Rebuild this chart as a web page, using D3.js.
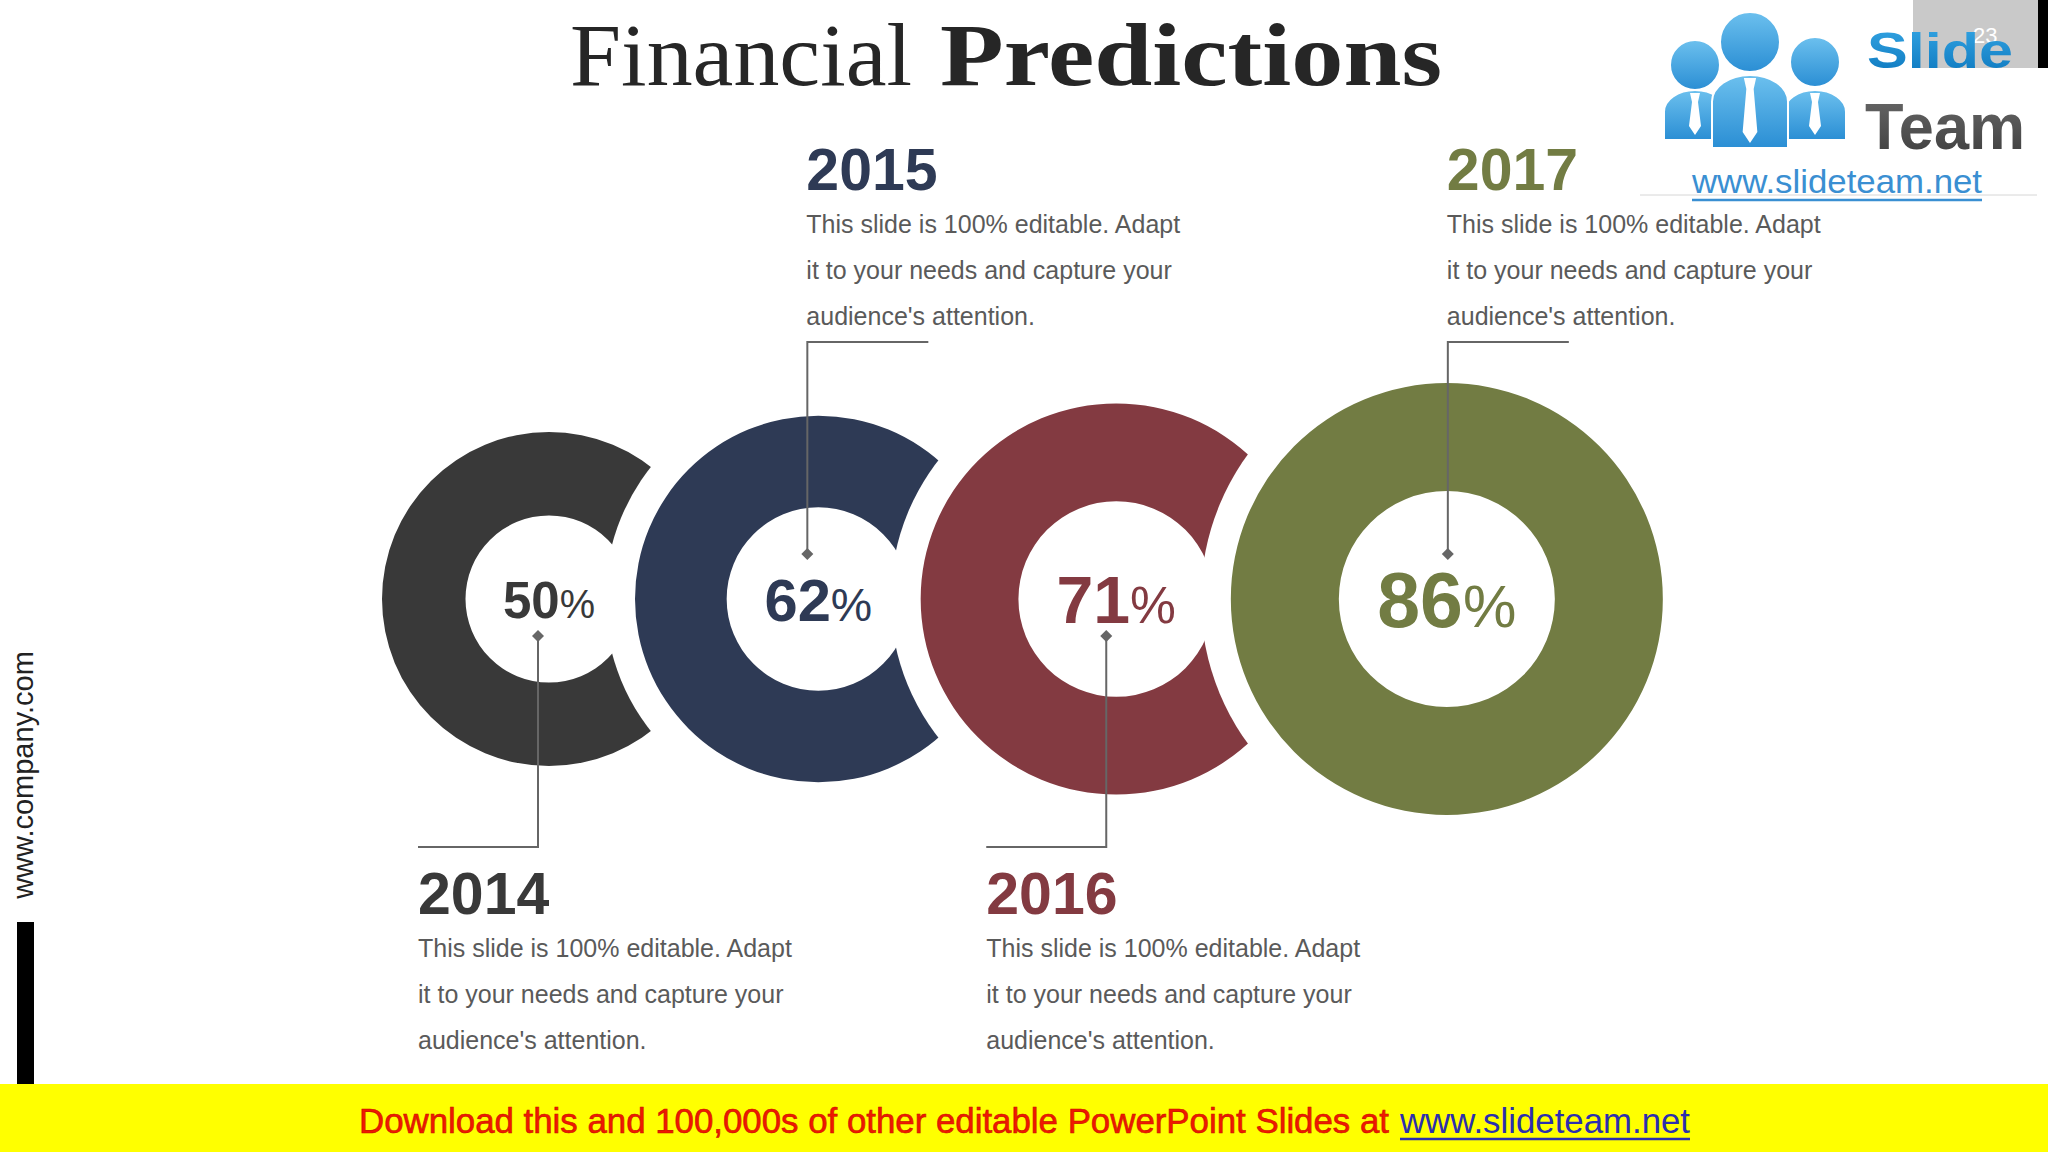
<!DOCTYPE html>
<html>
<head>
<meta charset="utf-8">
<script src="https://cdn.jsdelivr.net/npm/d3@7"></script>
<style>
  html, body { margin: 0; padding: 0; background: #fff; }
  svg { display: block; }
</style>
</head>
<body>
<svg id="chart" width="2048" height="1152"></svg>
<script>
// chart data
const years = ["2014", "2015", "2016", "2017"];
const values = [50, 62, 71, 86];
const colors = ["#393939", "#2e3a55", "#833a41", "#727c43"];
const sides = ["bottom", "top", "bottom", "top"]; // where the caption sits
const bodyLines = ["This slide is 100% editable. Adapt",
                   "it to your needs and capture your",
                   "audience's attention."];
const titleParts = ["Financial", "Predictions"];
const footerText = "Download this and 100,000s of other editable PowerPoint Slides at";
const footerLink = "www.slideteam.net";

const W = 2048, H = 1152;
const cy = 599;       // vertical centre of the row of rings
const overlap = 81;   // how much neighbouring rings overlap
const gap = 30;       // white gap cut round the next ring
const leadDx = [-11, -11, -10, 1]; // leader line offset from ring centre
const topRowY = 342, botRowY = 847;

const svg = d3.select("#chart");
const defs = svg.append("defs");

svg.append("rect").attr("width", W).attr("height", H).attr("fill", "#fff");

// ring size and label size grow with the value
const rScale = d3.scaleLinear().domain([50, 86]).range([167, 216]);
const numSize = d3.scaleLinear().domain([50, 86]).range([51, 77]);

var rings = years.map((y, i) => ({year: y, value: values[i], color: colors[i],
                                  side: sides[i], R: rScale(values[i])}));
rings.forEach((d, i) => {
    d.r = d.R / 2;
    d.cx = i === 0 ? 549 : rings[i - 1].cx + rings[i - 1].R + d.R - overlap;
});

// each ring is cut by a circle round the next one
rings.forEach((d, i) => {
    if (i === rings.length - 1) return;
    var nxt = rings[i + 1];
    var m = defs.append("mask").attr("id", "cut-" + i)
        .attr("maskUnits", "userSpaceOnUse")
        .attr("x", 0).attr("y", 0).attr("width", W).attr("height", H);
    m.append("rect").attr("width", W).attr("height", H).attr("fill", "#fff");
    m.append("circle").attr("cx", nxt.cx).attr("cy", cy)
        .attr("r", nxt.R + gap).attr("fill", "#000");
});

const arc = d3.arc().startAngle(0).endAngle(2 * Math.PI)
    .innerRadius(d => d.r).outerRadius(d => d.R);

// mask goes on an untransformed group so its coordinates are page coordinates
svg.append("g").selectAll("g")
    .data(rings).join("g")
    .attr("mask", (d, i) => i < rings.length - 1 ? `url(#cut-${i})` : null)
  .append("path")
    .attr("transform", d => `translate(${d.cx},${cy})`)
    .attr("d", arc)
    .attr("fill", d => d.color);

// percentage in the middle
var nums = svg.append("g").selectAll("text")
    .data(rings).join("text")
    .attr("x", d => d.cx).attr("y", cy)
    .attr("dy", d => 0.37 * numSize(d.value))
    .attr("text-anchor", "middle")
    .attr("fill", d => d.color)
    .style("font-family", "'Liberation Sans', Arial, sans-serif");
nums.append("tspan").text(d => d.value)
    .style("font-weight", "bold").style("font-size", d => numSize(d.value) + "px");
nums.append("tspan").text("%")
    .style("font-size", d => 0.78 * numSize(d.value) + "px");

// leader lines with diamond ends
var lead = svg.append("g").attr("stroke", "#666").attr("stroke-width", 2).attr("fill", "none");
rings.forEach((d, i) => {
    var lx = d.cx + leadDx[i];
    var top = d.side === "top";
    var dy = top ? cy - 45 : cy + 37;
    var rowY = top ? topRowY : botRowY;
    var endX = top ? lx + 121 : lx - 120;
    lead.append("path").attr("d", d3.line()([[lx, dy], [lx, rowY], [endX, rowY]]));
    svg.append("path")
        .attr("d", d3.symbol(d3.symbolSquare, 72)())
        .attr("transform", `translate(${lx},${dy}) rotate(45)`)
        .attr("fill", "#666");
    d.textX = top ? lx - 1 : endX;
    d.yearY = top ? 190 : 914;
});

// captions
var cap = svg.append("g").selectAll("g").data(rings).join("g")
    .attr("transform", d => `translate(${d.textX},${d.yearY})`)
    .style("font-family", "'Liberation Sans', Arial, sans-serif");
cap.append("text").text(d => d.year)
    .attr("fill", d => d.color)
    .style("font-weight", "bold").style("font-size", "59px");
cap.selectAll("text.body").data(bodyLines).join("text")
    .attr("class", "body")
    .attr("y", (t, j) => 43 + j * 46)
    .attr("fill", "#5a5a5a")
    .style("font-size", "25px")
    .text(t => t);

// title
var title = svg.append("g").style("font-family", "'Liberation Serif', 'Times New Roman', serif")
    .style("font-size", "88px").attr("fill", "#262626");
title.append("text").attr("x", 570).attr("y", 85).text(titleParts[0])
    .attr("textLength", 342).attr("lengthAdjust", "spacingAndGlyphs");
title.append("text").attr("x", 940).attr("y", 85).text(titleParts[1])
    .style("font-weight", "bold")
    .attr("textLength", 502).attr("lengthAdjust", "spacingAndGlyphs");

// left margin: site text and black bar
svg.append("text")
    .attr("transform", "translate(33,775) rotate(-90)")
    .attr("text-anchor", "middle")
    .attr("fill", "#222")
    .style("font-family", "'Liberation Sans', Arial, sans-serif")
    .style("font-size", "29px")
    .text("www.company.com");
svg.append("rect").attr("x", 17).attr("y", 922).attr("width", 17).attr("height", 162).attr("fill", "#000");

// top right: slide number box and logo
svg.append("rect").attr("x", 1913).attr("y", 0).attr("width", 125).attr("height", 68).attr("fill", "#c9c9c9");
svg.append("rect").attr("x", 2038).attr("y", 0).attr("width", 10).attr("height", 68).attr("fill", "#000");
svg.append("text").attr("x", 1973).attr("y", 43).attr("fill", "#fff")
    .style("font-family", "'Liberation Sans', Arial, sans-serif").style("font-size", "22px").text("23");

var blueGrad = defs.append("linearGradient").attr("id", "blue").attr("x1", 0).attr("y1", 0).attr("x2", 0).attr("y2", 1);
blueGrad.append("stop").attr("offset", 0).attr("stop-color", "#6cc0ee");
blueGrad.append("stop").attr("offset", 1).attr("stop-color", "#2a8ed4");
var slideGrad = defs.append("linearGradient").attr("id", "slideBlue").attr("x1", 0).attr("y1", 0).attr("x2", 0).attr("y2", 1);
slideGrad.append("stop").attr("offset", 0).attr("stop-color", "#35a6e4");
slideGrad.append("stop").attr("offset", 1).attr("stop-color", "#0b76bd");
var grayGrad = defs.append("linearGradient").attr("id", "gray").attr("x1", 0).attr("y1", 0).attr("x2", 0).attr("y2", 1);
grayGrad.append("stop").attr("offset", 0).attr("stop-color", "#6a6a6a");
grayGrad.append("stop").attr("offset", 1).attr("stop-color", "#3c3c3c");

svg.append("line").attr("x1", 1640).attr("x2", 2037).attr("y1", 195).attr("y2", 195)
    .attr("stroke", "#d6d6d6").attr("stroke-width", 1);

var logo = svg.append("g");
// [head x, head y, head r, body half width, body top, body bottom]
var people = [[1695, 65, 25, 31, 90, 140], [1815, 62, 25, 31, 90, 140], [1750, 42, 30, 38, 75, 148]];
people.forEach(p => {
    var [hx, hy, hr, w, bt, bb] = p;
    logo.append("circle").attr("cx", hx).attr("cy", hy).attr("r", hr)
        .attr("fill", "url(#blue)").attr("stroke", "#fff").attr("stroke-width", 2);
    logo.append("path")
        .attr("d", `M${hx - w},${bb} V${bt + w * 0.7} A${w},${w * 0.7} 0 0 1 ${hx + w},${bt + w * 0.7} V${bb} Z`)
        .attr("fill", "url(#blue)").attr("stroke", "#fff").attr("stroke-width", 2);
    var t0 = bt + 3, t1 = bb - 5, k = w / 31;
    logo.append("path")
        .attr("d", `M${hx - 5 * k},${t0} H${hx + 5 * k} L${hx + 3 * k},${t0 + 9 * k} L${hx + 6 * k},${t1 - 9 * k} L${hx},${t1} L${hx - 6 * k},${t1 - 9 * k} L${hx - 3 * k},${t0 + 9 * k} Z`)
        .attr("fill", "#fff");
});
logo.append("text").attr("x", 1867).attr("y", 68).text("Slide")
    .attr("fill", "url(#slideBlue)")
    .style("font-family", "'Liberation Sans', Arial, sans-serif")
    .style("font-weight", "bold").style("font-size", "50px")
    .attr("textLength", 146).attr("lengthAdjust", "spacingAndGlyphs");
logo.append("text").attr("x", 1865).attr("y", 149).text("Team")
    .attr("fill", "url(#gray)")
    .style("font-family", "'Liberation Sans', Arial, sans-serif")
    .style("font-weight", "bold").style("font-size", "64px")
    .attr("textLength", 160).attr("lengthAdjust", "spacingAndGlyphs");
logo.append("text").attr("x", 1692).attr("y", 193).text("www.slideteam.net")
    .attr("fill", "#3a8fd2")
    .style("font-family", "'Liberation Sans', Arial, sans-serif")
    .style("font-size", "34px")
    .attr("textLength", 290).attr("lengthAdjust", "spacingAndGlyphs");
logo.append("line").attr("x1", 1692).attr("x2", 1982).attr("y1", 200).attr("y2", 200)
    .attr("stroke", "#3a8fd2").attr("stroke-width", 2.5);

// yellow footer banner
svg.append("rect").attr("x", 0).attr("y", 1084).attr("width", W).attr("height", H - 1084).attr("fill", "#ffff00");
var foot = svg.append("g").style("font-family", "'Liberation Sans', Arial, sans-serif").style("font-size", "35px");
foot.append("text").attr("x", 359).attr("y", 1133).text(footerText)
    .attr("fill", "#f01800").attr("stroke", "#c81000").attr("stroke-width", 0.6)
    .attr("textLength", 1030).attr("lengthAdjust", "spacingAndGlyphs");
foot.append("text").attr("x", 1400).attr("y", 1133).text(footerLink)
    .attr("fill", "#2c2fae")
    .attr("textLength", 290).attr("lengthAdjust", "spacingAndGlyphs");
foot.append("line").attr("x1", 1400).attr("x2", 1690).attr("y1", 1139).attr("y2", 1139)
    .attr("stroke", "#2c2fae").attr("stroke-width", 2.5);
</script>
</body>
</html>
